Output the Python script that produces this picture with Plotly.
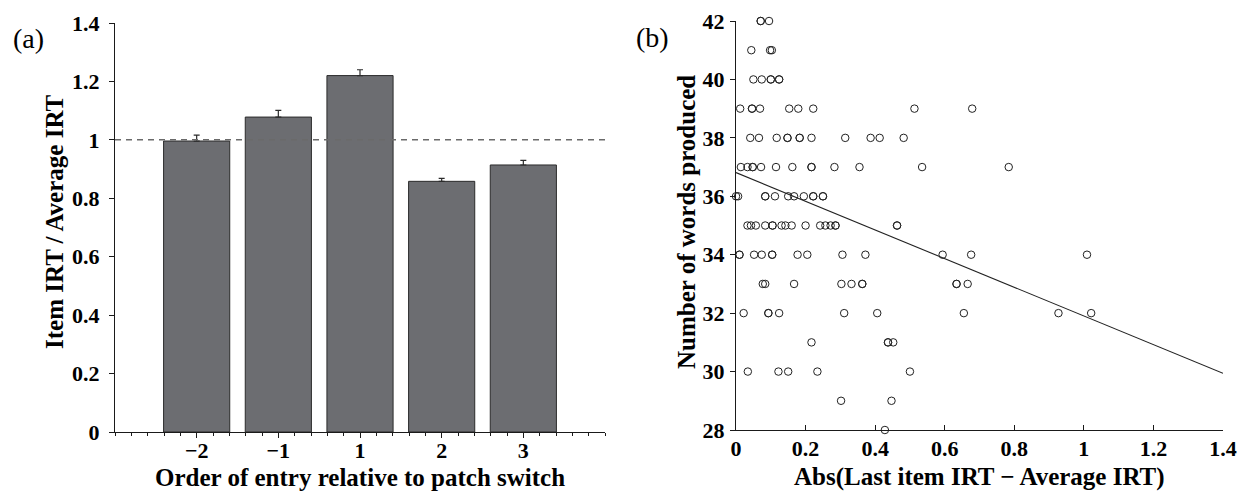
import plotly.graph_objects as go

# ---------------- Panel (a) data ----------------
order_labels = ["\u22122", "\u22121", "1", "2", "3"]
irt_ratio = [0.996, 1.078, 1.220, 0.858, 0.914]
irt_err = [0.020, 0.023, 0.020, 0.010, 0.016]
ref_level = 1.0
y_ticks_a = [0, 0.2, 0.4, 0.6, 0.8, 1.0, 1.2, 1.4]
y_ticklabels_a = ["0", "0.2", "0.4", "0.6", "0.8", "1", "1.2", "1.4"]

# ---------------- Panel (b) data ----------------
# abs(last item IRT - average IRT) values, grouped by number of words produced
row_42 = [0.071, 0.071, 0.095]
row_41 = [0.044, 0.098, 0.103]
row_40 = [0.050, 0.074, 0.100, 0.100, 0.124, 0.124]
row_39 = [0.012, 0.046, 0.046, 0.069, 0.153, 0.179, 0.222, 0.513, 0.679]
row_38 = [0.041, 0.066, 0.117, 0.148, 0.148, 0.183, 0.183, 0.217, 0.314, 0.387, 0.413, 0.482]
row_37 = [0.014, 0.033, 0.048, 0.048, 0.072, 0.115, 0.162, 0.217, 0.217, 0.283, 0.355, 0.535, 0.784]
row_36 = [0.0, 0.006, 0.084, 0.084, 0.112, 0.150, 0.167, 0.195, 0.222, 0.222, 0.250, 0.250]
row_35 = [0.033, 0.043, 0.057, 0.084, 0.105, 0.105, 0.131, 0.142, 0.160, 0.200, 0.242, 0.257,
          0.272, 0.286, 0.286, 0.463, 0.463]
row_34 = [0.010, 0.010, 0.052, 0.074, 0.104, 0.104, 0.177, 0.205, 0.306, 0.372, 0.594, 0.676, 1.009]
row_33 = [0.077, 0.084, 0.167, 0.303, 0.332, 0.363, 0.363, 0.634, 0.634, 0.666]
row_32 = [0.022, 0.093, 0.093, 0.124, 0.311, 0.406, 0.655, 0.927, 1.021]
row_31 = [0.217, 0.437, 0.437, 0.452]
row_30 = [0.034, 0.122, 0.150, 0.234, 0.500]
row_29 = [0.302, 0.447]
row_28 = [0.428]
word_levels = [42, 41, 40, 39, 38, 37, 36, 35, 34, 33, 32, 31, 30, 29, 28]
rows = [row_42, row_41, row_40, row_39, row_38, row_37, row_36, row_35,
        row_34, row_33, row_32, row_31, row_30, row_29, row_28]

fit_x = [0.0, 1.4]
fit_y = [36.81, 29.94]

abs_diff = []
words = []
for lvl, r in zip(word_levels, rows):
    abs_diff.extend(r)
    words.extend([lvl] * len(r))

W, H = 1248, 492
OFF = 8  # page body margin offset of the plot div
SERIF = "Liberation Serif"
INK = "#1a1a1a"


def px_x(p):
    return (p - OFF) / W


def px_y(p):
    return (H - (p - OFF)) / H


fig = go.Figure()

# Bars with upper error bars
fig.add_trace(go.Bar(
    x=list(range(len(order_labels))), y=irt_ratio, width=0.81,
    marker=dict(color="#6c6d71", line=dict(color="#2b2b2b", width=1)),
    error_y=dict(type="data", symmetric=False, array=irt_err,
                 arrayminus=[0] * len(irt_err), color="#2b2b2b", thickness=1.2, width=3),
    xaxis="x", yaxis="y", showlegend=False,
))

# Reference dashed line at y = 1
fig.add_trace(go.Scatter(
    x=[-1, 5], y=[ref_level, ref_level], mode="lines",
    line=dict(color="#6a6a6a", width=1.5, dash="6px,5px"),
    xaxis="x", yaxis="y", showlegend=False,
))

# Scatter points
fig.add_trace(go.Scatter(
    x=abs_diff, y=words, mode="markers",
    marker=dict(symbol="circle-open", size=7.5, color="#222222", line=dict(width=1)),
    xaxis="x2", yaxis="y2", showlegend=False, cliponaxis=False,
))

# Fitted line
fig.add_trace(go.Scatter(
    x=fit_x, y=fit_y, mode="lines", line=dict(color="#222222", width=1.1),
    xaxis="x2", yaxis="y2", showlegend=False,
))

tickfont = dict(family=SERIF, size=22, color="black", weight="bold")
titlefont = dict(family=SERIF, size=25, color="black", weight="bold")

xa_dom = [px_x(115), px_x(605)]
ya_dom = [px_y(432), px_y(23)]
xb_dom = [px_x(736), px_x(1223)]
yb_dom = [px_y(430), px_y(21)]

fig.update_layout(
    width=W, height=H,
    margin=dict(l=0, r=0, t=0, b=0, pad=0, autoexpand=False),
    paper_bgcolor="white", plot_bgcolor="white",
    xaxis=dict(
        domain=xa_dom, range=[-1, 5], tickmode="array",
        tickvals=list(range(len(order_labels))), ticktext=order_labels,
        ticks="outside", ticklen=5, tickwidth=1, tickcolor=INK,
        minor=dict(tickmode="linear", tick0=-1, dtick=0.2, ticks="outside",
                   ticklen=3, tickwidth=1, tickcolor=INK, showgrid=False),
        showline=True, linecolor=INK, linewidth=1.3, automargin=False,
        showgrid=False, zeroline=False, tickfont=tickfont, ticklabelstandoff=-7,
        anchor="y",
    ),
    yaxis=dict(
        domain=ya_dom, range=[0, 1.4], tickmode="array",
        tickvals=y_ticks_a, ticktext=y_ticklabels_a,
        ticks="outside", ticklen=5, tickwidth=1, tickcolor=INK,
        showline=True, linecolor=INK, linewidth=1.3, automargin=False,
        showgrid=False, zeroline=False, tickfont=tickfont, ticklabelstandoff=5,
        anchor="x",
    ),
    xaxis2=dict(
        domain=xb_dom, range=[0, 1.4], tickmode="linear", tick0=0, dtick=0.2,
        ticks="inside", ticklen=5, tickwidth=1, tickcolor=INK,
        showline=True, linecolor=INK, linewidth=1.3, automargin=False,
        showgrid=False, zeroline=False, tickfont=tickfont, ticklabelstandoff=-2,
        anchor="y2",
    ),
    yaxis2=dict(
        domain=yb_dom, range=[28, 42], tickmode="linear", tick0=28, dtick=2,
        ticks="outside", ticklen=5, tickwidth=1, tickcolor=INK,
        showline=True, linecolor=INK, linewidth=1.3, automargin=False,
        showgrid=False, zeroline=False, tickfont=tickfont, ticklabelstandoff=1,
        anchor="x2",
    ),
)

ann_common = dict(xref="paper", yref="paper", showarrow=False,
                  xanchor="center", yanchor="middle")
annotations = [
    dict(text="(a)", x=px_x(28), y=px_y(39),
         font=dict(family=SERIF, size=28, color="black"), **ann_common),
    dict(text="(b)", x=px_x(652), y=px_y(37),
         font=dict(family=SERIF, size=28, color="black"), **ann_common),
    dict(text="Order of entry relative to patch switch", x=(xa_dom[0] + xa_dom[1]) / 2,
         y=px_y(477), font=titlefont, **ann_common),
    dict(text="Item IRT / Average IRT", x=px_x(54), y=px_y(222),
         textangle=-90, font=titlefont, **ann_common),
    dict(text="Abs(Last item IRT \u2212 Average IRT)", x=(xb_dom[0] + xb_dom[1]) / 2,
         y=px_y(477), font=titlefont, **ann_common),
    dict(text="Number of words produced", x=px_x(686), y=px_y(222),
         textangle=-90, font=titlefont, **ann_common),
]
fig.update_layout(annotations=annotations)

fig.write_html("out.html")
